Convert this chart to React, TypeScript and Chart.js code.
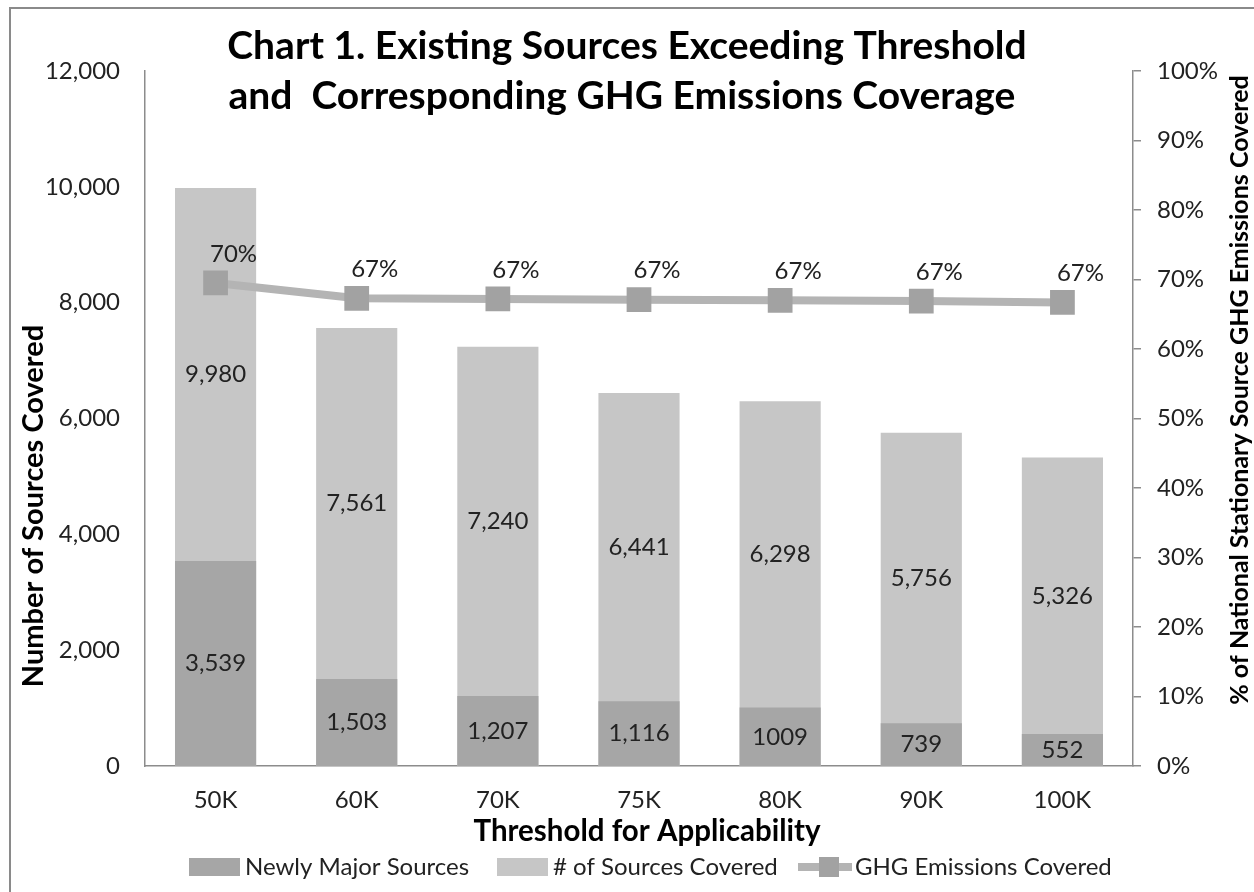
import React, { useEffect, useRef } from "react";
import { Chart, registerables } from "chart.js";

Chart.register(...registerables);

const categories = ["50K", "60K", "70K", "75K", "80K", "90K", "100K"];
const newlyMajor = [3539, 1503, 1207, 1116, 1009, 739, 552];
const newlyMajorLabels = ["3,539", "1,503", "1,207", "1,116", "1009", "739", "552"];
const sourcesCovered = [9980, 7561, 7240, 6441, 6298, 5756, 5326];
const ghgCovered = [69.5, 67.3, 67.2, 67.1, 67.0, 66.9, 66.7];

const titleLines = [
  "Chart 1. Existing Sources Exceeding Threshold",
  "and  Corresponding GHG Emissions Coverage",
];
const xTitle = "Threshold for Applicability";
const yTitle = "Number of Sources Covered";
const y1Title = "% of National Stationary Source GHG Emissions Covered";
const legendLabels = ["Newly Major Sources", "# of Sources Covered", "GHG Emissions Covered"];

const DARK = "#a6a6a6";
const LIGHT = "#c6c6c6";
const LINE = "#b4b4b4";
const MARKER = "#a2a2a2";
const AXIS = "#8c8c8c";
const FONT = "Lato, 'Open Sans', sans-serif";

const overlay = {
  id: "overlay",
  beforeDraw(chart: any) {
    const ctx = chart.ctx;
    ctx.save();
    ctx.fillStyle = "#ffffff";
    ctx.fillRect(0, 0, chart.width, chart.height);
    ctx.strokeStyle = "#8a8a8a";
    ctx.lineWidth = 2;
    ctx.strokeRect(10, 8, chart.width + 40, chart.height + 40);
    ctx.restore();
  },
  afterDatasetsDraw(chart: any) {
    const ctx = chart.ctx;
    const metaDark = chart.getDatasetMeta(0);
    const metaLight = chart.getDatasetMeta(1);
    const metaLine = chart.getDatasetMeta(2);
    ctx.save();
    ctx.font = `24px ${FONT}`;
    ctx.fillStyle = "#222";
    ctx.textAlign = "center";
    ctx.textBaseline = "middle";
    metaLight.data.forEach((bar: any, i: number) => {
      const darkTop = metaDark.data[i].y;
      ctx.fillText(sourcesCovered[i].toLocaleString("en-US"), bar.x, (bar.y + darkTop) / 2);
    });
    metaDark.data.forEach((bar: any, i: number) => {
      ctx.fillText(newlyMajorLabels[i], bar.x, (bar.y + bar.base) / 2);
    });
    metaLine.data.forEach((pt: any, i: number) => {
      ctx.fillText(Math.round(ghgCovered[i]) + "%", pt.x + 18, pt.y - 29);
    });
    ctx.restore();
  },
  afterDraw(chart: any) {
    const ctx = chart.ctx;
    ctx.save();
    ctx.fillStyle = "#000";
    ctx.textAlign = "center";
    ctx.textBaseline = "middle";
    // Title
    ctx.font = `bold 39px ${FONT}`;
    ctx.fillText(titleLines[0], 627, 46);
    ctx.fillText(titleLines[1], 622, 96);

    // X axis title
    ctx.font = `bold 29.5px ${FONT}`;
    ctx.fillText(xTitle, 647, 831);

    // Left axis title
    ctx.font = `bold 29px ${FONT}`;
    ctx.save();
    ctx.translate(34, 506);
    ctx.rotate(-Math.PI / 2);
    ctx.fillText(yTitle, 0, 0);
    ctx.restore();

    // Right axis title
    ctx.font = `bold 25px ${FONT}`;
    ctx.save();
    ctx.translate(1240, 390);
    ctx.rotate(-Math.PI / 2);
    ctx.fillText(y1Title, 0, 0);
    ctx.restore();

    // Legend
    const ly = 867;
    ctx.font = `24px ${FONT}`;
    ctx.textAlign = "left";
    ctx.fillStyle = DARK;
    ctx.fillRect(189, ly - 9, 51, 18);
    ctx.fillStyle = "#222";
    ctx.fillText(legendLabels[0], 245, ly);
    ctx.fillStyle = LIGHT;
    ctx.fillRect(497, ly - 9, 51, 18);
    ctx.fillStyle = "#222";
    ctx.fillText(legendLabels[1], 553, ly);
    ctx.strokeStyle = LINE;
    ctx.lineWidth = 8;
    ctx.beginPath();
    ctx.moveTo(798, ly);
    ctx.lineTo(852, ly);
    ctx.stroke();
    ctx.fillStyle = MARKER;
    ctx.fillRect(819, ly - 10, 20, 20);
    ctx.fillStyle = "#222";
    ctx.fillText(legendLabels[2], 855, ly);
    ctx.restore();
  },
};

export default function App() {
  const ref = useRef<HTMLCanvasElement | null>(null);
  useEffect(() => {
    if (!ref.current) return;
    Chart.defaults.font.family = FONT;
    Chart.defaults.color = "#222";
    const chart = new Chart(ref.current, {
      type: "bar",
      data: {
        labels: categories,
        datasets: [
          {
            type: "bar",
            label: legendLabels[0],
            data: newlyMajor,
            backgroundColor: DARK,
            grouped: false,
            order: 1,
            yAxisID: "y",
            categoryPercentage: 1,
            barPercentage: 0.575,
          } as any,
          {
            type: "bar",
            label: legendLabels[1],
            data: sourcesCovered,
            backgroundColor: LIGHT,
            grouped: false,
            order: 2,
            yAxisID: "y",
            categoryPercentage: 1,
            barPercentage: 0.575,
          } as any,
          {
            type: "line",
            label: legendLabels[2],
            data: ghgCovered,
            borderColor: LINE,
            borderWidth: 8,
            pointStyle: "rect",
            pointRadius: 17.5,
            pointBackgroundColor: MARKER,
            pointBorderWidth: 0,
            pointBorderColor: MARKER,
            order: 0,
            yAxisID: "y1",
            tension: 0,
          } as any,
        ],
      },
      options: {
        responsive: false,
        animation: false,
        layout: { padding: { top: 71, left: 0, right: 0, bottom: 46 } },
        plugins: {
          legend: { display: false },
          title: { display: false },
          tooltip: { enabled: false },
        },
        scales: {
          x: {
            grid: { display: false, drawTicks: false },
            border: { display: true, color: AXIS, width: 1.5 },
            ticks: { font: { size: 24 }, padding: 20, color: "#222" },
            title: { display: false },
            afterFit: (s: any) => {
              s.height = 80;
            },
          },
          y: {
            position: "left",
            min: 0,
            max: 12000,
            grid: { display: false, drawTicks: false },
            border: { display: true, color: AXIS, width: 1.5 },
            ticks: {
              stepSize: 2000,
              font: { size: 24 },
              padding: 25,
              color: "#222",
              callback: (v: any) => Number(v).toLocaleString("en-US"),
            },
            afterFit: (s: any) => {
              s.width = 145;
            },
          },
          y1: {
            position: "right",
            min: 0,
            max: 100,
            grid: {
              display: true,
              drawOnChartArea: false,
              drawTicks: true,
              tickLength: 8,
              color: AXIS,
              lineWidth: 1.5,
            },
            border: { display: true, color: AXIS, width: 1.5 },
            ticks: {
              stepSize: 10,
              font: { size: 24 },
              padding: 16,
              color: "#222",
              callback: (v: any) => v + "%",
            },
            afterFit: (s: any) => {
              s.width = 121;
            },
          },
        },
      } as any,
      plugins: [overlay],
    });
    return () => chart.destroy();
  }, []);
  return (
    <div style={{ position: "fixed", left: 0, top: 0, width: 1254, height: 892, background: "#fff" }}>
      <canvas ref={ref} width={1254} height={892} style={{ width: 1254, height: 892, display: "block" }} />
    </div>
  );
}
